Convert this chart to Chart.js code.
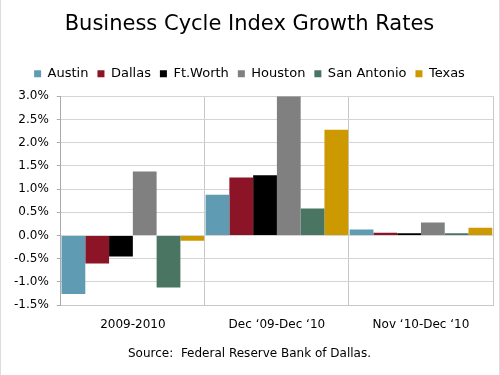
<!DOCTYPE html>
<html>
<head>
<meta charset="utf-8">
<script src="https://cdn.jsdelivr.net/npm/chart.js@4"></script>
<style>
  html, body { margin: 0; padding: 0; background: #fff; }
  #wrap { position: relative; width: 500px; height: 375px; box-sizing: border-box; border-left: 1px solid #ddd; border-right: 1px solid #ddd; }
</style>
</head>
<body>
<div id="wrap"><canvas id="chart" width="498" height="375"></canvas></div>
<script>
const categories = ['2009-2010', 'Dec \u201809-Dec \u201810', 'Nov \u201810-Dec \u201810']
const seriesNames = ['Austin', 'Dallas', 'Ft.Worth', 'Houston', 'San Antonio', 'Texas']
const austin = [-1.26, 0.88, 0.13]
const dallas = [-0.60, 1.25, 0.06]
const ftWorth = [-0.45, 1.30, 0.05]
const houston = [1.38, 3.0, 0.28]
const sanAntonio = [-1.12, 0.58, 0.05]
const texas = [-0.11, 2.28, 0.17]
const colors = ['#5f9cb3', '#8b1427', '#000000', '#808080', '#4a7562', '#cc9900']

const values = [austin, dallas, ftWorth, houston, sanAntonio, texas]
const font = 'DejaVu Sans, Verdana, sans-serif'

// extra room under the legend
const legendGap = {
    id: 'legendGap',
    beforeInit(chart) {
        const fit = chart.legend.fit
        chart.legend.fit = function () {
            fit.bind(chart.legend)()
            this.height += 6
        }
    }
}

const data = {
    labels: categories,
    datasets: seriesNames.map((name, i) => ({
        label: name,
        data: values[i],
        backgroundColor: colors[i],
        borderWidth: 0,
        barPercentage: 1,
        categoryPercentage: 0.99
    }))
}

const config = {
    type: 'bar',
    data: data,
    plugins: [legendGap],
    options: {
        responsive: false,
        animation: false,
        layout: { padding: { left: 5, right: 6, top: 10, bottom: 8 } },
        plugins: {
            title: {
                display: true,
                text: 'Business Cycle Index Growth Rates',
                color: '#000',
                font: { family: font, size: 21, weight: 'normal' },
                padding: { top: 2, bottom: 21 }
            },
            subtitle: {
                display: true,
                position: 'bottom',
                text: 'Source:  Federal Reserve Bank of Dallas.',
                color: '#000',
                font: { family: font, size: 12 },
                padding: { top: 3, bottom: 6 }
            },
            legend: {
                labels: {
                    color: '#000',
                    font: { family: font, size: 13 },
                    boxWidth: 7,
                    boxHeight: 7,
                    padding: 9
                }
            },
            tooltip: { enabled: false }
        },
        scales: {
            x: {
                grid: { color: '#c8c8c8', drawTicks: false },
                border: { color: '#c8c8c8' },
                ticks: { color: '#000', font: { family: font, size: 12 }, padding: 12 }
            },
            y: {
                min: -1.5,
                max: 3.0,
                ticks: {
                    stepSize: 0.5,
                    color: '#000',
                    font: { family: font, size: 12 },
                    padding: 8,
                    callback: v => v.toFixed(1) + '%'
                },
                grid: { color: '#d4d4d4', tickLength: 4, tickColor: '#aaaaaa' },
                border: { color: '#aaaaaa' }
            }
        }
    }
}

const ctx = document.getElementById('chart').getContext('2d')
const businessCycleChart = new Chart(ctx, config)
</script>
</body>
</html>
